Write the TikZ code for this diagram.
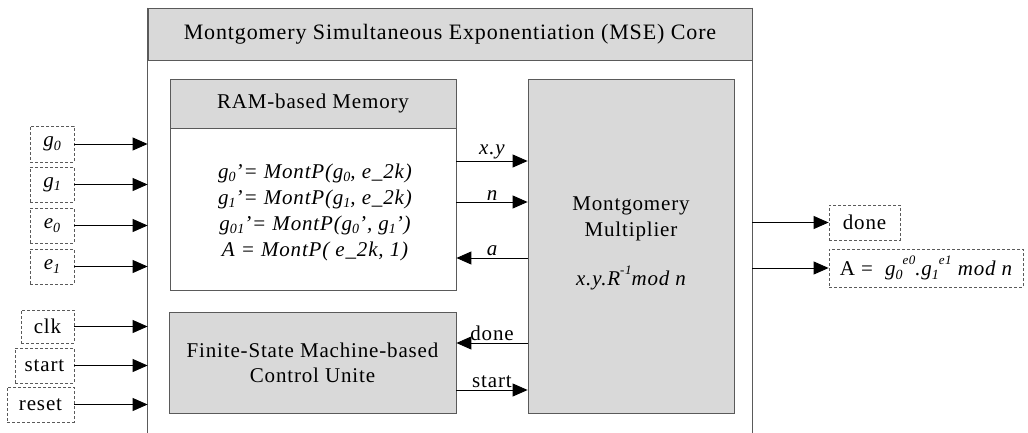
\documentclass[tikz,border=0pt]{standalone}
\usepackage{fontspec}
\setmainfont{Liberation Serif}[LetterSpace=4]
\usetikzlibrary{arrows.meta}

\definecolor{boxgray}{HTML}{D9D9D9}
\definecolor{edgegray}{HTML}{5A5A5A}

% lowered / raised indices in the running font
\newcommand\lo[1]{\raisebox{-0.16em}{\fontsize{14}{14}\selectfont #1}}
\newcommand\hi[1]{\raisebox{0.55em}{\fontsize{13}{13}\selectfont #1}}

\tikzset{
  txt/.style={font=\fontsize{21}{25}\selectfont},
  itx/.style={font=\fontsize{21}{25}\selectfont\itshape},
  blk/.style={draw=edgegray, line width=0.8pt, inner sep=0pt, txt},
  grey/.style={blk, fill=boxgray},
  io/.style={draw=edgegray, dashed, dash pattern=on 3pt off 2pt,
             line width=0.8pt, inner sep=0pt, txt},
  arr/.style={draw=black, line width=0.9pt,
              -{Triangle[length=15pt,width=13pt]}},
  lbl/.style={txt, above, inner sep=1.5pt},
}

\begin{document}
\begin{tikzpicture}[x=1pt, y=-1pt]
\useasboundingbox (0,0) rectangle (1028,433);

% core title band and open side walls
\node[grey, minimum width=604, minimum height=52, font=\fontsize{22}{26}\selectfont] (core) at (450,34)
  {Montgomery Simultaneous Exponentiation (MSE) Core};
\draw[edgegray, line width=0.8pt] (core.north west) -- (core.north west |- 0,433);
\draw[edgegray, line width=0.8pt] (core.north east) -- (core.north east |- 0,433);

% RAM-based memory
\node[grey, minimum width=286, minimum height=49] (ramh) at (313,103.5)
  {RAM-based Memory};
\node[blk, fill=white, minimum width=286, minimum height=162] (ram) at (313,209) {};
\node[font=\fontsize{21}{26}\selectfont\itshape, align=center] (ramtxt) at (315,212)
  {g\lo{0}'= MontP(g\lo{0}, e\_2k)\\
   g\lo{1}'= MontP(g\lo{1}, e\_2k)\\
   g\lo{01}'= MontP(g\lo{0}', g\lo{1}')\\
   A = MontP( e\_2k, 1)};

% FSM control unit
\node[grey, minimum width=287, minimum height=101, align=center,
      font=\fontsize{21}{25}\selectfont] (fsm) at (312.5,362.5)
  {Finite-State Machine-based\\Control Unite};

% Montgomery multiplier
\node[grey, minimum width=206, minimum height=334] (mult) at (631,246) {};
\node[font=\fontsize{21}{26}\selectfont, align=center] (multname) at (631,219)
  {Montgomery\\Multiplier};
\node[itx] (multfn) at (631,278)
  {x.y.R\hi{-1}mod n};

% memory <-> multiplier
\draw[arr] (ram.east |- 0,161) -- node[lbl, itx] {x.y} (mult.west |- 0,161);
\draw[arr] (ram.east |- 0,202) -- node[lbl, itx] {n} (mult.west |- 0,202);
\draw[arr] (mult.west |- 0,258) -- node[lbl, itx] {a} (ram.east |- 0,258);

% control unit <-> multiplier
\draw[arr] (mult.west |- 0,343) -- node[lbl] {done} (fsm.east |- 0,343);
\draw[arr] (fsm.east |- 0,390) -- node[lbl] {start} (mult.west |- 0,390);

% primary inputs
\node[io, itx, minimum width=44, minimum height=36] (g0) at (52,144) {g\lo{0}};
\node[io, itx, minimum width=44, minimum height=35] (g1) at (52,184.5) {g\lo{1}};
\node[io, itx, minimum width=44, minimum height=35] (e0) at (52,225.5) {e\lo{0}};
\node[io, itx, minimum width=44, minimum height=35] (e1) at (52,266.5) {e\lo{1}};
\node[io, minimum width=53, minimum height=33] (clk) at (47.5,326.5) {clk};
\node[io, minimum width=59, minimum height=35] (start) at (44.5,365.5) {start};
\node[io, minimum width=67, minimum height=35] (reset) at (40.5,404.5) {reset};

\foreach \n in {g0,g1,e0,e1,clk,start,reset}
  \draw[arr] (\n.east) -- (\n.east -| core.west);

% primary outputs
\node[io, minimum width=71, minimum height=35] (done) at (864.5,222.5) {done};
\node[io, minimum width=194, minimum height=38] (res) at (926,268)
  {A = ~{\itshape g\lo{0}\hi{e0}.g\lo{1}\hi{e1} mod n}};
\draw[arr] (done.west -| core.east) -- (done.west);
\draw[arr] (res.west -| core.east) -- (res.west);
\end{tikzpicture}
\end{document}
